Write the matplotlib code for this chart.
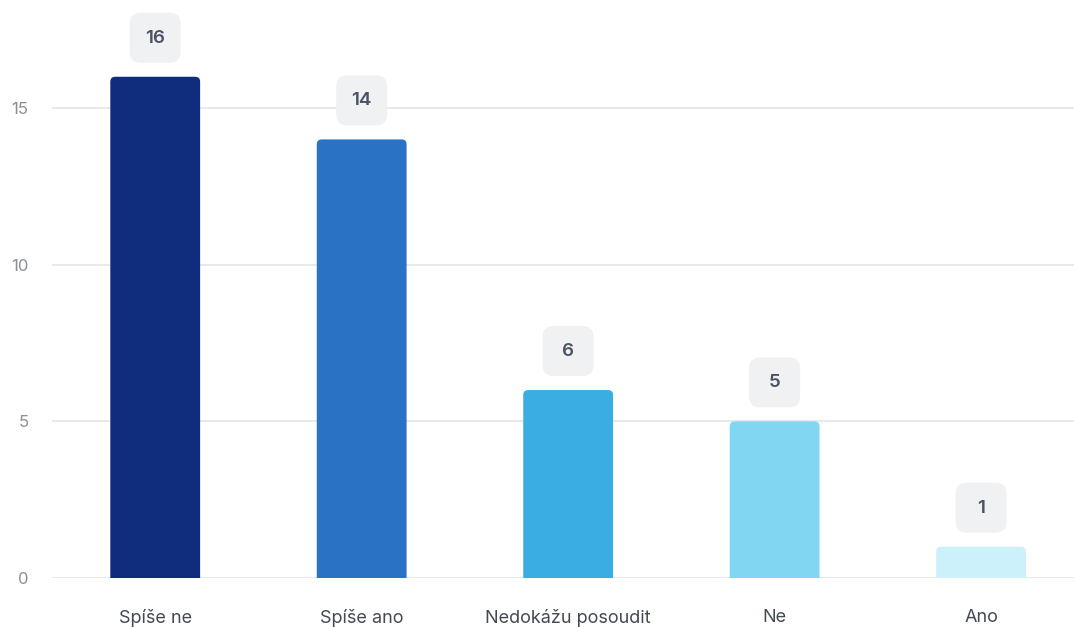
import matplotlib.pyplot as plt
from matplotlib.patches import FancyBboxPatch
from matplotlib.transforms import ScaledTranslation

# data
categories = ["Spíše ne", "Spíše ano", "Nedokážu posoudit", "Ne", "Ano"]
counts = [16, 14, 6, 5, 1]
colors = ["#0f2d7c", "#2a72c4", "#3aade3", "#81d6f2", "#cdf1fa"]
yticks = [0, 5, 10, 15]

plt.rcParams['font.family'] = ['Inter', 'DejaVu Sans']

fig = plt.figure(figsize=(10.74, 6.27), dpi=100)
ax = fig.add_axes([0.0484, 0.0781, 0.9516, 0.9219])

bars = ax.bar(range(len(categories)), counts, width=0.435, color=colors)

ax.set_xlim(-0.5, 4.45)
ax.set_ylim(0, 18.45)

# swap square bars for ones with rounded tops
for b in bars:
    x, w, h = b.get_x(), b.get_width(), b.get_height()
    rounded = FancyBboxPatch((x, -0.5), w, h + 0.5,
                             boxstyle="round,pad=0,rounding_size=0.024",
                             mutation_aspect=6.6,
                             facecolor=b.get_facecolor(), edgecolor="none",
                             zorder=3, clip_on=True)
    b.remove()
    ax.add_patch(rounded)

# value labels in grey rounded boxes of fixed size
for i, v in enumerate(counts):
    trans = fig.dpi_scale_trans + ScaledTranslation(i, v, ax.transData)
    box = FancyBboxPatch((-0.255, 0.14), 0.51, 0.50,
                         boxstyle="round,pad=0,rounding_size=0.11",
                         facecolor="#eff1f2", edgecolor="none",
                         transform=trans, clip_on=False, zorder=4)
    ax.add_patch(box)
    ax.text(0, 0.385, str(v), transform=trans, ha="center", va="center",
            fontsize=13.5, fontweight="semibold", color="#4b5263", zorder=5)

ax.set_yticks(yticks)
ax.set_xticks(range(len(categories)))
ax.set_xticklabels(categories)
ax.tick_params(axis="y", length=0, pad=17, labelsize=12, labelcolor="#8a8f96")
ax.tick_params(axis="x", length=0, pad=22, labelsize=13, labelcolor="#444a52")

ax.grid(axis="y", color="#e6e7e9", linewidth=1.3, zorder=0)
ax.set_axisbelow(True)
for s in ax.spines.values():
    s.set_visible(False)

fig.savefig("out.png", dpi=100)
